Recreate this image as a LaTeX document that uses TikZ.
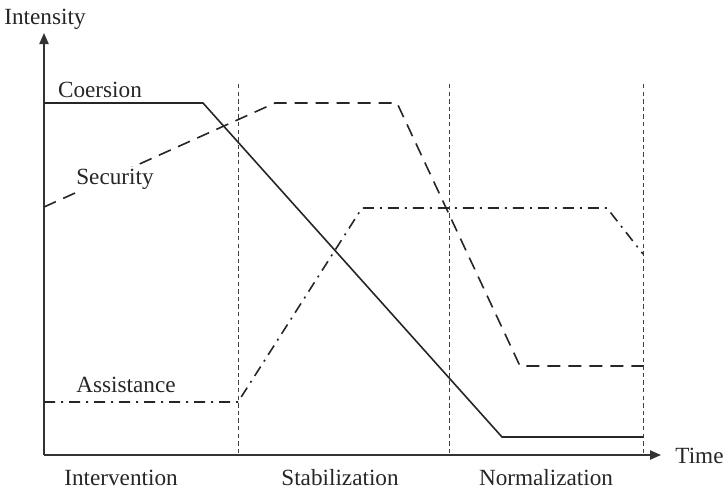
\documentclass[tikz,border=0pt]{standalone}
\usepackage{fontspec}
\setmainfont{Liberation Serif}
\usetikzlibrary{arrows.meta}
\begin{document}
\begin{tikzpicture}[x=0.5pt,y=-0.5pt,
  lbl/.style={inner sep=0pt,font=\fontsize{11.6}{13}\selectfont,text=black!85},
  axisline/.style={line width=0.8pt,draw=black!80,-{Triangle[length=5.5pt,width=4.6pt]}},
  phase/.style={line width=0.5pt,draw=black!75,dash pattern=on 2.2pt off 1.6pt},
  coersion/.style={line width=0.8pt,draw=black!85},
  security/.style={line width=0.8pt,draw=black!85,dash pattern=on 6.5pt off 4pt},
  assistance/.style={line width=0.8pt,draw=black!85,dash pattern=on 5.5pt off 3pt on 1pt off 3pt}]
\useasboundingbox (0,0) rectangle (724,489);

% axes
\coordinate (O) at (44,455);
\coordinate (ytop) at (44,33);
\coordinate (xend) at (661,455);
\draw[axisline] (O) -- (ytop);
\draw[axisline] (O) -- (xend);
\node[lbl] (intensity) at (45,19) {Intensity};
\node[lbl,anchor=west] (time) at (675,456) {Time};

% phase boundaries
\foreach \x/\n in {238/a,449/b,643/c}{
  \coordinate (p\n top) at (\x,84);
  \coordinate (p\n bot) at (\x,455);
  \draw[phase] (p\n top) -- (p\n bot);
}
\node[lbl] (intervention) at (121,478) {Intervention};
\node[lbl] (stabilization) at (340,478) {Stabilization};
\node[lbl] (normalization) at (546,478) {Normalization};

% coersion
\coordinate (c0) at (44,103);
\coordinate (c1) at (203,103);
\coordinate (c2) at (502,437);
\coordinate (c3) at (643,437);
\draw[coersion] (c0) -- (c1) -- (c2) -- (c3);
\node[lbl] (lcoersion) at (100,90) {Coersion};

% security
\coordinate (s0) at (44,207);
\coordinate (s1) at (275,103);
\coordinate (s2) at (397,103);
\coordinate (s3) at (520,366);
\coordinate (s4) at (643,366);
\draw[security] (s0) -- (s1) -- (s2) -- (s3) -- (s4);
\node[lbl,fill=white,inner sep=1pt] (lsecurity) at (115,179) {Security};

% assistance
\coordinate (a0) at (44,402);
\coordinate (a1) at (238,402);
\coordinate (a2) at (362,208);
\coordinate (a3) at (607,208);
\coordinate (a4) at (643,254);
\draw[assistance] (a0) -- (a1) -- (a2) -- (a3) -- (a4);
\node[lbl] (lassistance) at (126,385) {Assistance};
\end{tikzpicture}
\end{document}
